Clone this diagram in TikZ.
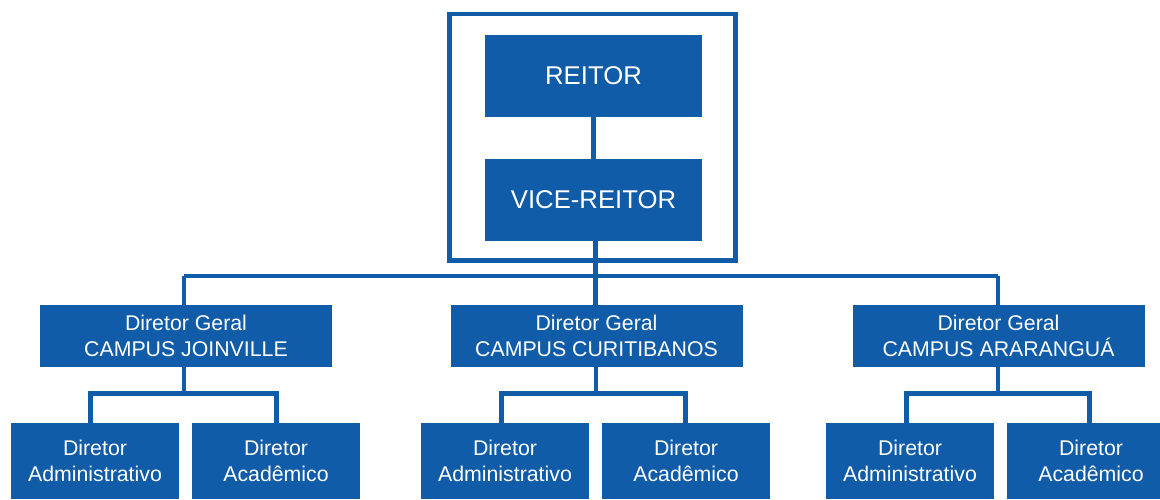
\documentclass[tikz,border=0pt]{standalone}
\usepackage{fontspec}
\setmainfont{Liberation Sans}
\definecolor{ufblue}{RGB}{16,92,168}
\tikzset{
  box/.style={rectangle, fill=ufblue, text=white, inner sep=0pt, align=center},
  topbox/.style={box, minimum width=217pt, minimum height=82pt, font=\fontsize{25.7}{30}\selectfont},
  campbox/.style={box, minimum width=292pt, minimum height=62pt, font=\fontsize{21.3}{25.7}\selectfont},
  subbox/.style={box, minimum width=168pt, minimum height=76pt, font=\fontsize{21.3}{26}\selectfont},
  conn/.style={draw=ufblue, line width=4.5pt},
  frame/.style={draw=ufblue, line width=4.5pt, rectangle, inner sep=0pt, minimum width=286pt, minimum height=246.5pt}
}
\begin{document}
\begin{tikzpicture}[x=1pt,y=-1pt]
\useasboundingbox (0,0) rectangle (1160,499);
\clip (0,0) rectangle (1160,499);
% top
\node[frame] (outer) at (592.5,137.25) {};
\node[topbox] (reitor) at (593.5,76) {REITOR};
\node[topbox] (vice) at (593.5,200) {VICE-REITOR};
% campus
\node[campbox] (cj) at (186,336) {Diretor Geral\\CAMPUS JOINVILLE};
\node[campbox] (cc) at (596.5,336) {Diretor Geral\\CAMPUS CURITIBANOS};
\node[campbox] (ca) at (998.5,336) {Diretor Geral\\CAMPUS ARARANGUÁ};
% sub
\node[subbox] (jad) at (95,461) {Diretor\\Administrativo};
\node[subbox] (jac) at (276,461) {Diretor\\Acadêmico};
\node[subbox] (cad) at (505,461) {Diretor\\Administrativo};
\node[subbox] (cac) at (686,461) {Diretor\\Acadêmico};
\node[subbox] (aad) at (910,461) {Diretor\\Administrativo};
\node[subbox] (aac) at (1091,461) {Diretor\\Acadêmico};
% bus coordinates
\coordinate (busL) at (184,276);
\coordinate (busM) at (595.5,276);
\coordinate (busR) at (998,276);
% connectors
\draw[conn] (reitor.south) -- (vice.north);
\draw[conn] ([xshift=2pt]vice.south) -- (busM);
\draw[conn] (busL) -- (busR);
\draw[conn] (busL) -- (busL |- cj.north);
\draw[conn] (busM) -- (busM |- cc.north);
\draw[conn] (busR) -- (busR |- ca.north);
\draw[conn] ([xshift=-2pt]cj.south) -- ++(0,26.5) -| ([xshift=-4.5pt]jad.north);
\draw[conn] ([xshift=-2pt]cj.south) ++(0,26.5) -| ([xshift=0.5pt]jac.north);
\draw[conn] ([xshift=-0.5pt]cc.south) -- ++(0,26.5) -| ([xshift=-3.5pt]cad.north);
\draw[conn] ([xshift=-0.5pt]cc.south) ++(0,26.5) -| ([xshift=-0.5pt]cac.north);
\draw[conn] ([xshift=-0.5pt]ca.south) -- ++(0,26.5) -| ([xshift=-3.5pt]aad.north);
\draw[conn] ([xshift=-0.5pt]ca.south) ++(0,26.5) -| ([xshift=-1.5pt]aac.north);
\end{tikzpicture}
\end{document}
